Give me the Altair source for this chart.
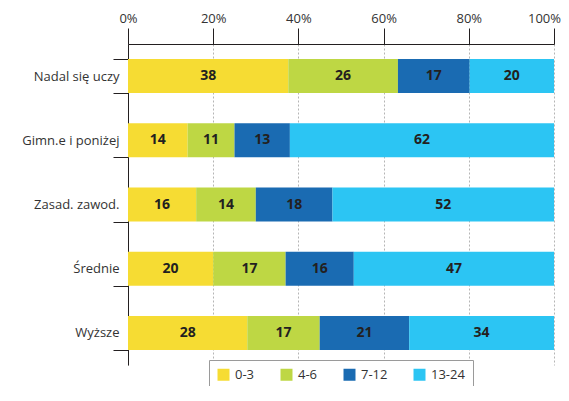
import altair as alt
import pandas as pd

categories = ["Nadal się uczy", "Gimn.e i poniżej", "Zasad. zawod.", "Średnie", "Wyższe"]
series = ["0-3", "4-6", "7-12", "13-24"]
v_0_3 = [38, 14, 16, 20, 28]
v_4_6 = [26, 11, 14, 17, 17]
v_7_12 = [17, 13, 18, 16, 21]
v_13_24 = [20, 62, 52, 47, 34]
colors = ["#F6DC33", "#BED744", "#1A6BB2", "#2CC5F3"]
tick_values = [0, 0.2, 0.4, 0.6, 0.8, 1.0]

rows = []
for si, (s, vals) in enumerate(zip(series, [v_0_3, v_4_6, v_7_12, v_13_24])):
    for c, v in zip(categories, vals):
        rows.append({"cat": c, "series": s, "order": si, "value": v})
df = pd.DataFrame(rows)

FONT = "Open Sans"

base = (
    alt.Chart(df)
    .transform_joinaggregate(total="sum(value)", groupby=["cat"])
    .transform_window(
        cum="sum(value)",
        groupby=["cat"],
        sort=[alt.SortField("order", order="ascending")],
        frame=[None, 0],
    )
    .transform_calculate(
        x1="(datum.cum - datum.value) / datum.total",
        x2="datum.cum / datum.total",
        xm="(datum.cum - datum.value / 2) / datum.total",
    )
)

y_enc = alt.Y(
    "cat:N",
    sort=categories,
    title=None,
    scale=alt.Scale(paddingInner=0.47, paddingOuter=0.235),
    axis=alt.Axis(
        tickBand="extent",
        tickSize=15,
        tickColor="#231f20",
        domainColor="#231f20",
        labelPadding=-6,
        labelFontSize=13,
        labelColor="#333333",
        labelFont=FONT,
        grid=False,
    ),
)

bars = base.mark_bar().encode(
    x=alt.X(
        "x1:Q",
        scale=alt.Scale(domain=[0, 1], nice=False, zero=True),
        title=None,
        axis=alt.Axis(
            orient="top",
            values=tick_values,
            format=".0%",
            grid=True,
            gridDash=[2, 2],
            gridColor="#b5b5b5",
            gridWidth=1,
            tickSize=16,
            tickColor="#231f20",
            domainColor="#231f20",
            labelPadding=3,
            labelFlush=False,
            labelOffset={"condition": {"test": "datum.value === 1", "value": -10}, "value": 0},
            labelFontSize=13,
            labelColor="#333333",
            labelFont=FONT,
        ),
    ),
    x2="x2:Q",
    y=y_enc,
    color=alt.Color(
        "series:N",
        scale=alt.Scale(domain=series, range=colors),
        legend=alt.Legend(
            title=None,
            orient="none",
            legendX=81,
            legendY=316,
            direction="horizontal",
            symbolType="square",
            symbolSize=144,
            symbolStrokeWidth=0,
            labelFontSize=13,
            labelFont=FONT,
            labelColor="#333333",
            labelOffset=5,
            columnPadding=25,
            padding=8,
            strokeColor="#9a9a9a",
            fillColor="white",
        ),
    ),
)

labels = base.mark_text(
    fontWeight="bold", fontSize=14, color="#231f20", font=FONT, baseline="middle"
).encode(
    x=alt.X("xm:Q"),
    y=alt.Y("cat:N", sort=categories),
    text=alt.Text("value:Q"),
)

chart = (
    alt.layer(bars, labels)
    .properties(
        width=426,
        height=321,
        autosize=alt.AutoSizeParams(type="none"),
        padding={"left": 120, "top": 36, "right": 7, "bottom": 21},
        background="white",
    )
    .configure_view(stroke=None)
)

chart.save("out.html", embed_options={"renderer": "svg", "actions": False})
